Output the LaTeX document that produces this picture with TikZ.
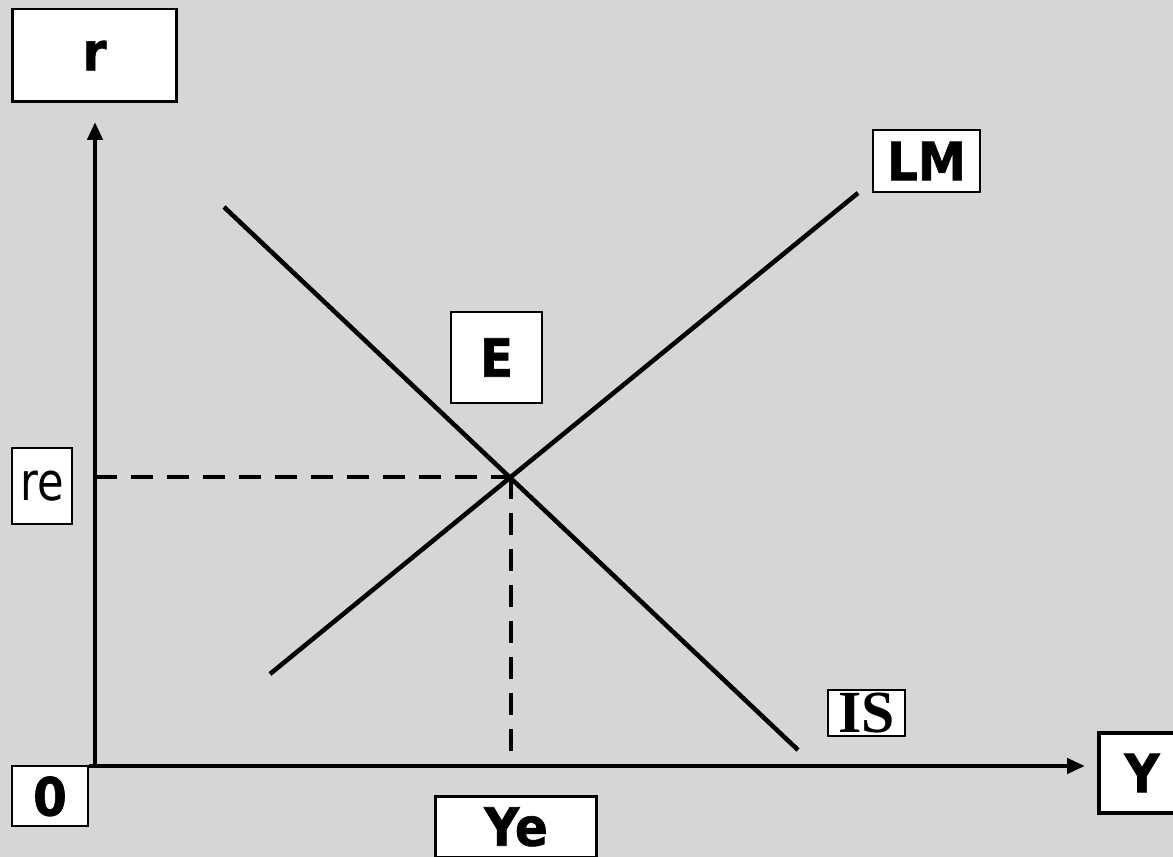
\documentclass[tikz,border=0pt]{standalone}
\usepackage{fontspec}
\setmainfont[FakeStretch=0.92,FakeBold=1.2]{DejaVu Sans}
\newfontfamily\refont[FakeStretch=0.82]{DejaVu Sans}
\newfontfamily\isfont{Liberation Serif}
\usetikzlibrary{arrows.meta}
\definecolor{paper}{RGB}{214,214,214}

\begin{document}
\begin{tikzpicture}[
  x=0.02cm,y=-0.02cm,
  font=\fontsize{30}{36}\selectfont\bfseries,
  lbl/.style={draw=black,fill=white,line width=1.2pt,inner sep=0pt,
              text depth=0pt,align=center},
  curve/.style={line width=2.6pt},
  axis/.style={-{Triangle[length=0.36cm,width=0.3cm]},line width=2.6pt},
  guide/.style={line width=2.6pt,dash pattern=on 0.44cm off 0.28cm}
]
\useasboundingbox (0,0) rectangle (1173,857);
\fill[paper] (0,0) rectangle (1173,857);

% axes
\coordinate (O) at (95,766);
\coordinate (ytip) at (95,122);
\coordinate (xtip) at (1085,766);
\coordinate (xstart) at (89,766);
\draw[axis] (O) -- (ytip);
\draw[axis] (xstart) -- (xtip);

% IS and LM curves
\coordinate (is1) at (224,207);
\coordinate (is2) at (798,750);
\coordinate (lm1) at (270,674);
\coordinate (lm2) at (858,193);
\coordinate (eq) at (511,477);
\draw[curve] (is1) -- (is2);
\draw[curve] (lm1) -- (lm2);

% equilibrium guides
\coordinate (reax) at (95,477);
\coordinate (yeax) at (511,766);
\draw[guide] (reax) -- (eq);
\draw[guide] (eq) -- (yeax);

% labels
\node[lbl,line width=1.7pt,minimum width=3.3cm,minimum height=1.86cm] (r) at (94.5,55.5) {r};
\node[lbl,line width=0.9pt,minimum width=1.2cm,minimum height=1.52cm,font=\fontsize{30}{36}\selectfont\refont] (re) at (42,486) {re};
\node[lbl,minimum width=1.52cm,minimum height=1.2cm] (zero) at (50,796) {0};
\node[lbl,line width=1.7pt,minimum width=3.24cm,minimum height=1.22cm] (ye) at (516,826.5) {Ye};
\node[lbl,line width=2.3pt,minimum width=1.72cm,minimum height=1.6cm] (y) at (1142,773) {Y};
\node[lbl,minimum width=2.14cm,minimum height=1.24cm] (lm) at (926.5,161) {LM};
\node[lbl,minimum width=1.82cm,minimum height=1.82cm] (e) at (496.5,357.5) {E};
\node[lbl,line width=1pt,minimum width=1.54cm,minimum height=0.92cm,font=\fontsize{34}{40}\selectfont\isfont\bfseries] (is) at (866.5,713) {IS};
\end{tikzpicture}
\end{document}
